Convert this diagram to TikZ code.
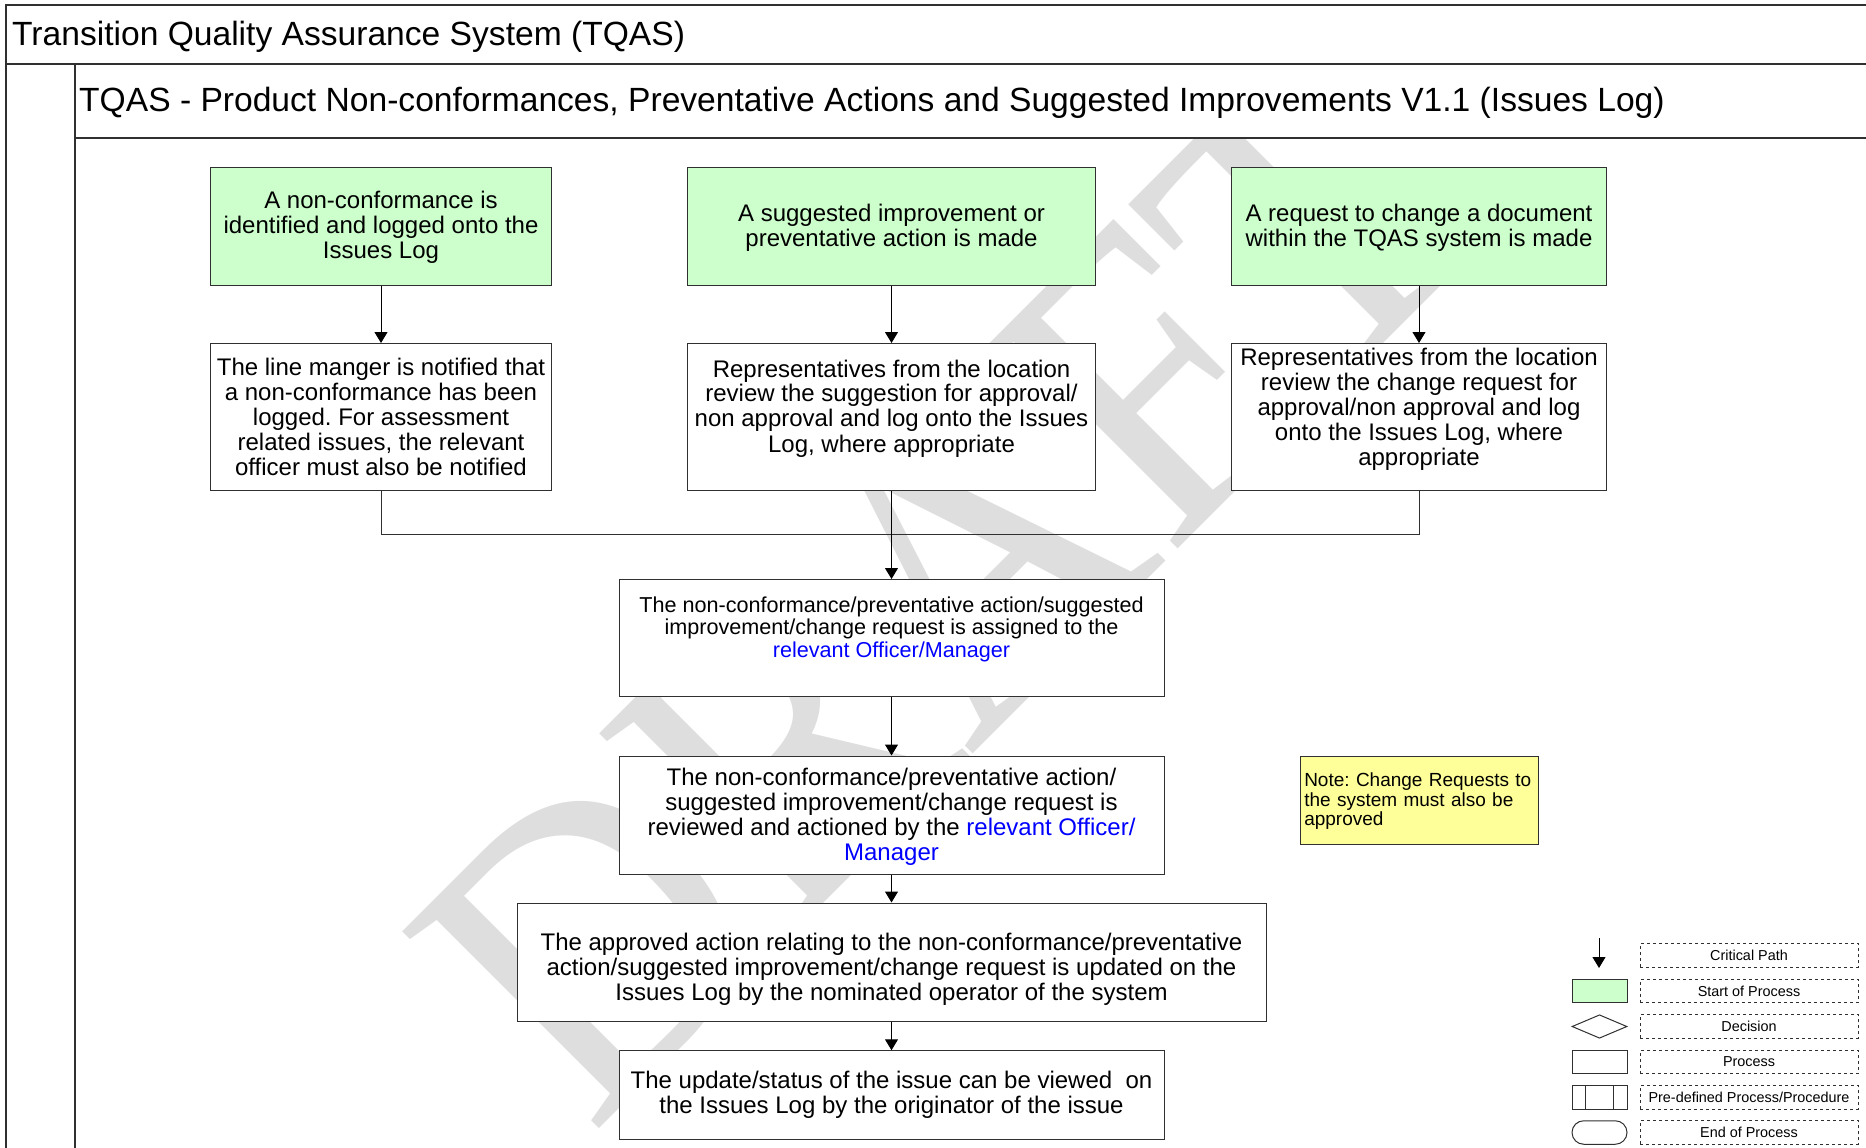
\documentclass[tikz,border=0pt]{standalone}
\usepackage{fontspec}
\setmainfont{Liberation Sans}
\newfontfamily\wmfont{Liberation Serif}
\usetikzlibrary{arrows.meta,shapes.geometric,shapes.misc}
\definecolor{startgreen}{HTML}{CCFFCC}
\definecolor{noteyellow}{HTML}{FFFF99}
\definecolor{wmgrey}{HTML}{DEDEDE}
\definecolor{edgegrey}{HTML}{303030}
\definecolor{linkblue}{HTML}{0000FF}
\newcommand{\lnk}[1]{\textcolor{linkblue}{#1}}
\newcommand{\dnline}[1]{\mbox{}\\[#1]}
\frenchspacing
\tikzset{
  boxbase/.style={draw=edgegrey,line width=1pt,inner sep=0pt,align=center,font=\fontsize{24}{25}\selectfont},
  startbox/.style={boxbase,fill=startgreen},
  procbox/.style={boxbase,fill=white},
  flow/.style={draw=black,line width=1pt,-{Triangle[length=11pt,width=13pt]}},
  plainline/.style={draw=edgegrey,line width=1pt},
  frameline/.style={draw=edgegrey,line width=1.4pt},
  legendlabel/.style={draw=edgegrey,dashed,line width=0.9pt,inner sep=0pt,minimum width=218pt,minimum height=23.5pt,font=\fontsize{14.4}{15}\selectfont},
  legendicon/.style={draw=edgegrey,line width=1pt,inner sep=0pt,minimum width=55pt,minimum height=23.5pt},
}
\begin{document}
\begin{tikzpicture}[x=1pt,y=-1pt]
\useasboundingbox[fill=white] (0,0) rectangle (1866,1148);
% watermark
\begin{scope}
\clip (76,139) rectangle (1866,1148);
\node[rotate=45,anchor=base west,inner sep=0pt,text=wmgrey,font=\fontsize{425}{425}\selectfont\wmfont] (wm) at (591,1136.3) {\scalebox{.91}[1]{DRAFT}};
\end{scope}
% frame
\coordinate (tl) at (6,5); \coordinate (tr) at (1866,5);
\coordinate (ml) at (6,64); \coordinate (mr) at (1866,64);
\coordinate (bl) at (6,1148);
\coordinate (sl) at (75,64); \coordinate (sb) at (75,1148);
\coordinate (hl) at (75,138); \coordinate (hr) at (1866,138);
\draw[frameline] (tr) -- (tl) -- (bl);
\draw[frameline] (ml) -- (mr);
\draw[frameline] (sl) -- (sb);
\draw[frameline] (hl) -- (hr);
\node[anchor=west,inner sep=0pt,font=\fontsize{33.6}{38}\selectfont] (title) at (12,36.4) {Transition Quality Assurance System (TQAS)};
\node[anchor=west,inner sep=0pt,font=\fontsize{33.6}{38}\selectfont] (subtitle) at (79,102.4) {TQAS - Product Non-conformances, Preventative Actions and Suggested Improvements V1.1 (Issues Log)};
% top row
\node[startbox,minimum width=341pt,minimum height=118pt] (g1) at (381,226.3) {\dnline{-5pt}A non-conformance is\\identified and logged onto the\\Issues Log};
\node[startbox,minimum width=408pt,minimum height=118pt] (g2) at (891.5,226.3) {\dnline{-5pt}A suggested improvement or\\preventative action is made};
\node[startbox,minimum width=374.5pt,minimum height=118pt] (g3) at (1419,226.3) {\dnline{-5pt}A request to change a document\\within the TQAS system is made};
% second row
\node[procbox,minimum width=341pt,minimum height=147pt] (w1) at (381,417) {The line manger is notified that\\a non-conformance has been\\logged. For assessment\\related issues, the relevant\\officer must also be notified};
\node[procbox,minimum width=408pt,minimum height=147pt] (w2) at (891.5,417) {Representatives from the location\\review the suggestion for approval/\\non approval and log onto the Issues\\Log, where appropriate\\[-2.6pt]\mbox{}};
\node[procbox,minimum width=374.5pt,minimum height=147pt] (w3) at (1419,417) {Representatives from the location\\review the change request for\\approval/non approval and log\\onto the Issues Log, where\\appropriate\\[-5pt]\mbox{}};
% centre column
\node[procbox,minimum width=545pt,minimum height=117pt,font=\fontsize{21.6}{22.5}\selectfont] (c1) at (891.5,638) {The non-conformance/preventative action/suggested\\improvement/change request is assigned to the\\\lnk{relevant Officer/Manager}\\\mbox{}};
\node[procbox,minimum width=545pt,minimum height=118pt] (c2) at (891.5,815) {\dnline{-5pt}The non-conformance/preventative action/\\suggested improvement/change request is\\reviewed and actioned by the \lnk{relevant Officer/}\\\lnk{Manager}};
\node[procbox,minimum width=749pt,minimum height=118pt] (c3) at (891.5,962) {\dnline{6pt}The approved action relating to the non-conformance/preventative\\action/suggested improvement/change request is updated on the\\Issues Log by the nominated operator of the system};
\node[procbox,minimum width=545pt,minimum height=88.5pt] (c4) at (891.5,1095) {\dnline{-7.4pt}The update/status of the issue can be viewed\ \ on\\the Issues Log by the originator of the issue};
% note
\node[draw=edgegrey,fill=noteyellow,line width=1pt,inner sep=0pt,minimum width=238pt,minimum height=88pt,font=\fontsize{19}{19.4}\selectfont,align=left,text width=229.5pt] (note) at (1419,800) {\dnline{-3.4pt}Note: Change Requests to\\the system must also be\\approved};
% connectors
\coordinate (merge) at (891.5,534.5);
\draw[flow] (g1) -- (w1);
\draw[flow] (g2) -- (w2);
\draw[flow] (g3) -- (w3);
\draw[plainline] (w1.south) |- (merge);
\draw[plainline] (w3.south) |- (merge);
\draw[flow] (w2) -- (c1);
\draw[flow] (c1) -- (c2);
\draw[flow] (c2) -- (c3);
\draw[flow] (c3) -- (c4);
% legend
\coordinate (la) at (1599,938); \coordinate (lb) at (1599,968);
\draw[flow] (la) -- (lb);
\node[legendlabel] (l1) at (1749,955.5) {Critical Path};
\node[legendicon,fill=startgreen] (i2) at (1599.5,991) {};
\node[legendlabel] (l2) at (1749,991) {Start of Process};
\node[legendicon,diamond,aspect=2.4] (i3) at (1599.5,1026.5) {};
\node[legendlabel] (l3) at (1749,1026.5) {Decision};
\node[legendicon] (i4) at (1599.5,1062) {};
\node[legendlabel] (l4) at (1749,1062) {Process};
\node[legendicon] (i5) at (1599.5,1097.5) {};
\draw[plainline] ([xshift=14pt]i5.north west) -- ([xshift=14pt]i5.south west);
\draw[plainline] ([xshift=-14pt]i5.north east) -- ([xshift=-14pt]i5.south east);
\node[legendlabel] (l5) at (1749,1097.5) {Pre-defined Process/Procedure};
\node[legendicon,rounded rectangle] (i6) at (1599.5,1132.5) {};
\node[legendlabel] (l6) at (1749,1132.5) {End of Process};
\end{tikzpicture}
\end{document}
